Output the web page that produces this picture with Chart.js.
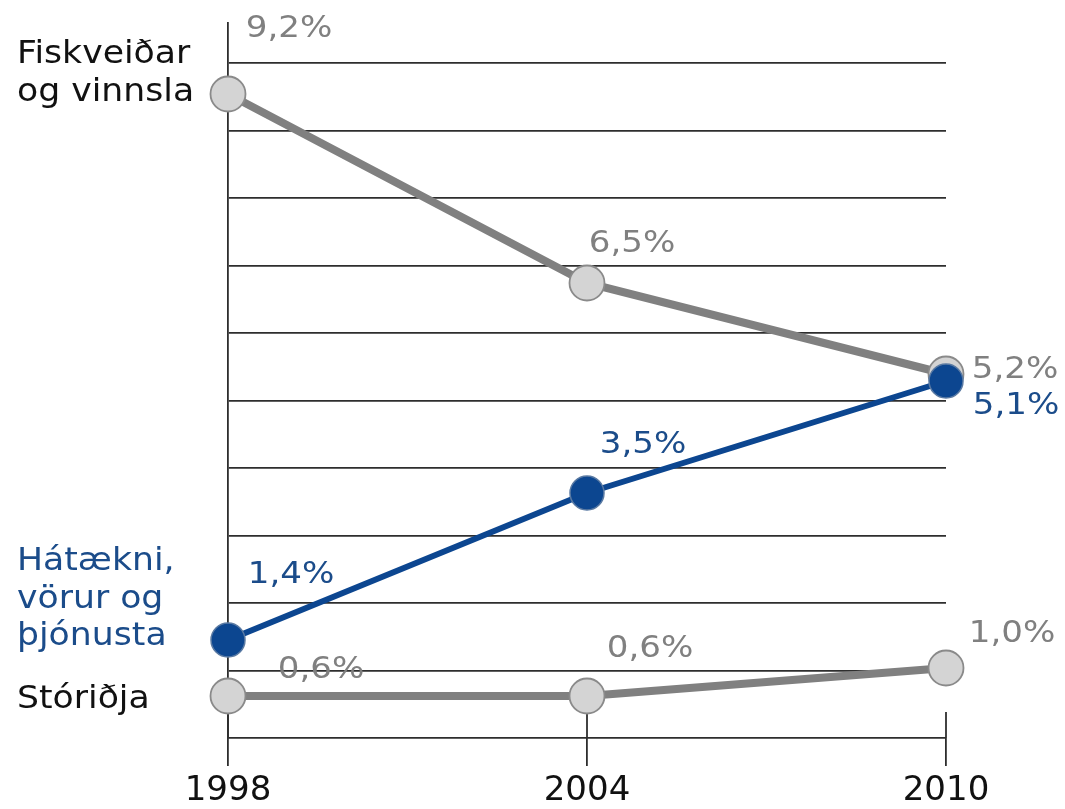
<!DOCTYPE html>
<html>
<head>
<meta charset="utf-8">
<script src="https://cdn.jsdelivr.net/npm/chart.js@4"></script>
<style>
  body { margin: 0; background: #fff; }
  canvas { display: block; }
</style>
</head>
<body>
<canvas id="chart" width="1065" height="809"></canvas>
<script>
// data
const years = [1998, 2004, 2010];
const fiskveidar = [9.2, 6.5, 5.2];
const hataekni = [1.4, 3.5, 5.1];
const storidja = [0.6, 0.6, 1.0];
const seriesNames = [
  ["Fiskveiðar", "og vinnsla"],
  ["Hátækni,", "vörur og", "þjónusta"],
  ["Stóriðja"],
];

const FONT = "'DejaVu Sans', Verdana, sans-serif";
const GREY = "#808080";
const BLUE = "#0c4690";
const BLUE_TEXT = "#1b4c8a";
const LINE = "#2e2e2e";

// grid lines every 67.5px, y scale is 70px per unit
const gridStep = 67.5 / 70;

function pct(v) {
  return v.toFixed(1).replace(".", ",") + "%";
}

function toPoints(values) {
  return values.map((v, i) => ({ x: years[i], y: v }));
}

// the original text is a bit wide, stretch it sideways
function wideText(ctx, text, x, y, align) {
  const sx = 1.1;
  ctx.save();
  ctx.translate(x, y);
  ctx.scale(sx, 1);
  ctx.textAlign = align;
  ctx.fillText(text, 0, 0);
  ctx.restore();
}

// label placement (offset from each point) and name placement
const styles = [
  {
    color: GREY, nameColor: "#111",
    labelOffsets: [[61, -57], [45, -31], [69, 4]],
    nameOffset: -31,
  },
  {
    color: BLUE_TEXT, nameColor: BLUE_TEXT,
    labelOffsets: [[63, -57], [56, -40], [70, 33]],
    nameOffset: -70,
  },
  {
    color: GREY, nameColor: "#111",
    labelOffsets: [[93, -18], [63, -39], [66, -26]],
    nameOffset: 12,
  },
];

const decor = {
  id: "decor",
  beforeDatasetsDraw(chart) {
    // the year ticks poke a little above the bottom line too
    const { ctx, chartArea, scales } = chart;
    ctx.save();
    ctx.strokeStyle = LINE;
    ctx.lineWidth = 1.8;
    for (const yr of years) {
      const x = scales.x.getPixelForValue(yr);
      ctx.beginPath();
      ctx.moveTo(x, chartArea.bottom - 26);
      ctx.lineTo(x, chartArea.bottom);
      ctx.stroke();
    }
    ctx.restore();
  },
  afterDatasetsDraw(chart) {
    const { ctx } = chart;
    ctx.save();
    ctx.textBaseline = "alphabetic";
    chart.data.datasets.forEach((ds, di) => {
      const st = styles[di];
      const meta = chart.getDatasetMeta(di);
      ctx.font = "31px " + FONT;
      ctx.fillStyle = st.color;
      meta.data.forEach((pt, i) => {
        const [dx, dy] = st.labelOffsets[i];
        wideText(ctx, pct(ds.data[i].y), pt.x + dx, pt.y + dy, "center");
      });
      // series name on the left
      ctx.font = "31.5px " + FONT;
      ctx.fillStyle = st.nameColor;
      const y0 = meta.data[0].y + st.nameOffset;
      seriesNames[di].forEach((line, li) => {
        wideText(ctx, line, 17, y0 + li * 37.5, "left");
      });
    });
    ctx.restore();
  },
};

const greyLine = {
  borderColor: GREY,
  borderWidth: 8,
  pointRadius: 17.5,
  pointBackgroundColor: "#d4d4d4",
  pointBorderColor: "#8a8a8a",
  pointBorderWidth: 1.8,
  order: 1,
  clip: false,
};

new Chart(document.getElementById("chart"), {
  type: "line",
  data: {
    datasets: [
      { ...greyLine, label: "Fiskveiðar og vinnsla", data: toPoints(fiskveidar) },
      {
        label: "Hátækni, vörur og þjónusta",
        data: toPoints(hataekni),
        borderColor: BLUE,
        borderWidth: 6,
        pointRadius: 17,
        pointBackgroundColor: BLUE,
        pointBorderColor: "#5a7aa3",
        pointBorderWidth: 1.5,
        order: 0,
        clip: false,
      },
      { ...greyLine, label: "Stóriðja", data: toPoints(storidja) },
    ],
  },
  options: {
    responsive: false,
    animation: false,
    layout: { padding: { left: 228, right: 119, top: 23, bottom: -6.4 } },
    plugins: {
      legend: { display: false },
      tooltip: { enabled: false },
    },
    scales: {
      x: {
        type: "linear",
        min: 1998,
        max: 2010,
        afterBuildTicks: (axis) => {
          axis.ticks = years.map((v) => ({ value: v }));
        },
        ticks: {
          callback: (v) => String(v),
          color: "#111",
          font: { family: FONT, size: 34, lineHeight: 1.1 },
          padding: 6,
          maxRotation: 0,
        },
        grid: {
          drawOnChartArea: false,
          drawTicks: true,
          tickLength: 28,
          color: LINE,
          lineWidth: 1.8,
        },
        border: { display: false },
      },
      y: {
        min: 0,
        max: 715 / 70,
        afterBuildTicks: (axis) => {
          const t = [];
          for (let k = 0; k <= 10; k++) t.push({ value: k * gridStep });
          axis.ticks = t;
        },
        ticks: { display: false },
        grid: { drawTicks: false, color: LINE, lineWidth: 1.8 },
        border: { display: true, color: LINE, width: 1.8 },
      },
    },
  },
  plugins: [decor],
});
</script>
</body>
</html>
